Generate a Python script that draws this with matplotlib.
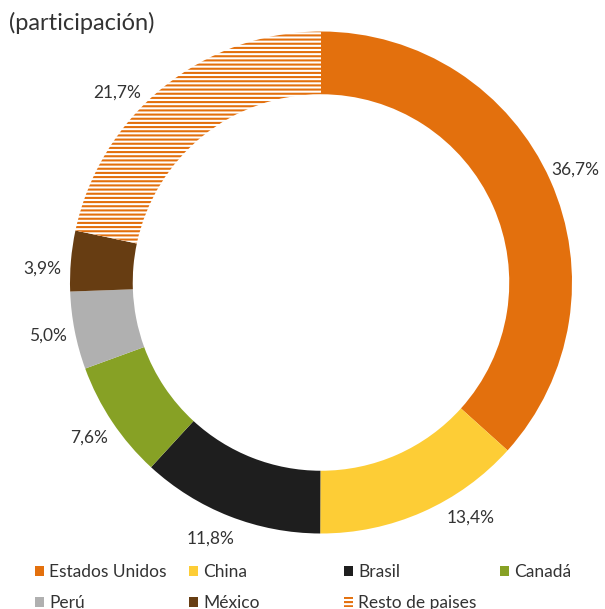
import numpy as np
import matplotlib
matplotlib.use('Agg')
import matplotlib.pyplot as plt

plt.rcParams['font.family'] = ['Lato', 'DejaVu Sans']
plt.rcParams['hatch.linewidth'] = 1.5

paises = ['Estados Unidos', 'China', 'Brasil', 'Canadá', 'Perú', 'México', 'Resto de paises']
participacion = [36.7, 13.4, 11.8, 7.6, 5.0, 3.9, 21.7]
colores = ['#E3700D', '#FDCD36', '#1E1E1E', '#87A125', '#B0B0B0', '#673D12', 'white']

texto = '#333333'

fig = plt.figure(figsize=(6.05, 6.09), dpi=100)
# donut: centro ~ (321, 282) px, radio ~251 px
ax = fig.add_axes([70 / 605, (609 - 282.5 - 251) / 609, 502 / 605, 502 / 609])

etiquetas = [('%.1f%%' % v).replace('.', ',') for v in participacion]
wedges, texts = ax.pie(participacion, labels=etiquetas, colors=colores,
                       startangle=90, counterclock=False, radius=1.0,
                       labeldistance=1.11,
                       wedgeprops=dict(width=0.25, linewidth=0),
                       textprops=dict(fontsize=12.5, color=texto))
for t in texts:
    t.set_ha('center')
    t.set_va('center')

# algunos rotulos desplazados a mano (grados)
ajuste = {1: 8.5, 2: -2.0, 5: 2.0, 6: 8.0}
for i, d in ajuste.items():
    x, y = texts[i].get_position()
    ang = np.arctan2(y, x) + np.deg2rad(d)
    r = np.hypot(x, y)
    texts[i].set_position((r * np.cos(ang), r * np.sin(ang)))

# resto de paises: rayado horizontal naranja
wedges[-1].set_edgecolor('#E3700D')
wedges[-1].set_hatch('----')
wedges[-1].set_linewidth(0)

ax.set_xlim(-1, 1)
ax.set_ylim(-1, 1)
ax.set_aspect('equal')
ax.axis('off')

fig.text(9 / 605, 1 - 23 / 609, '(participación)', fontsize=17, color=texto,
         ha='left', va='center')

# leyenda en cuatro columnas de ancho fijo
columnas = [[0, 4], [1, 5], [2, 6], [3]]
xs = [35, 189, 344, 500]
for col, x0 in zip(columnas, xs):
    fig.legend([wedges[i] for i in col], [paises[i] for i in col],
               loc='upper left', bbox_to_anchor=(x0 / 605, 1 - 564 / 609),
               frameon=False, fontsize=12.5, labelcolor=texto,
               handlelength=0.5, handleheight=0.5, handletextpad=0.3,
               labelspacing=0.85, borderpad=0, borderaxespad=0)

fig.savefig('out.png', dpi=100)
